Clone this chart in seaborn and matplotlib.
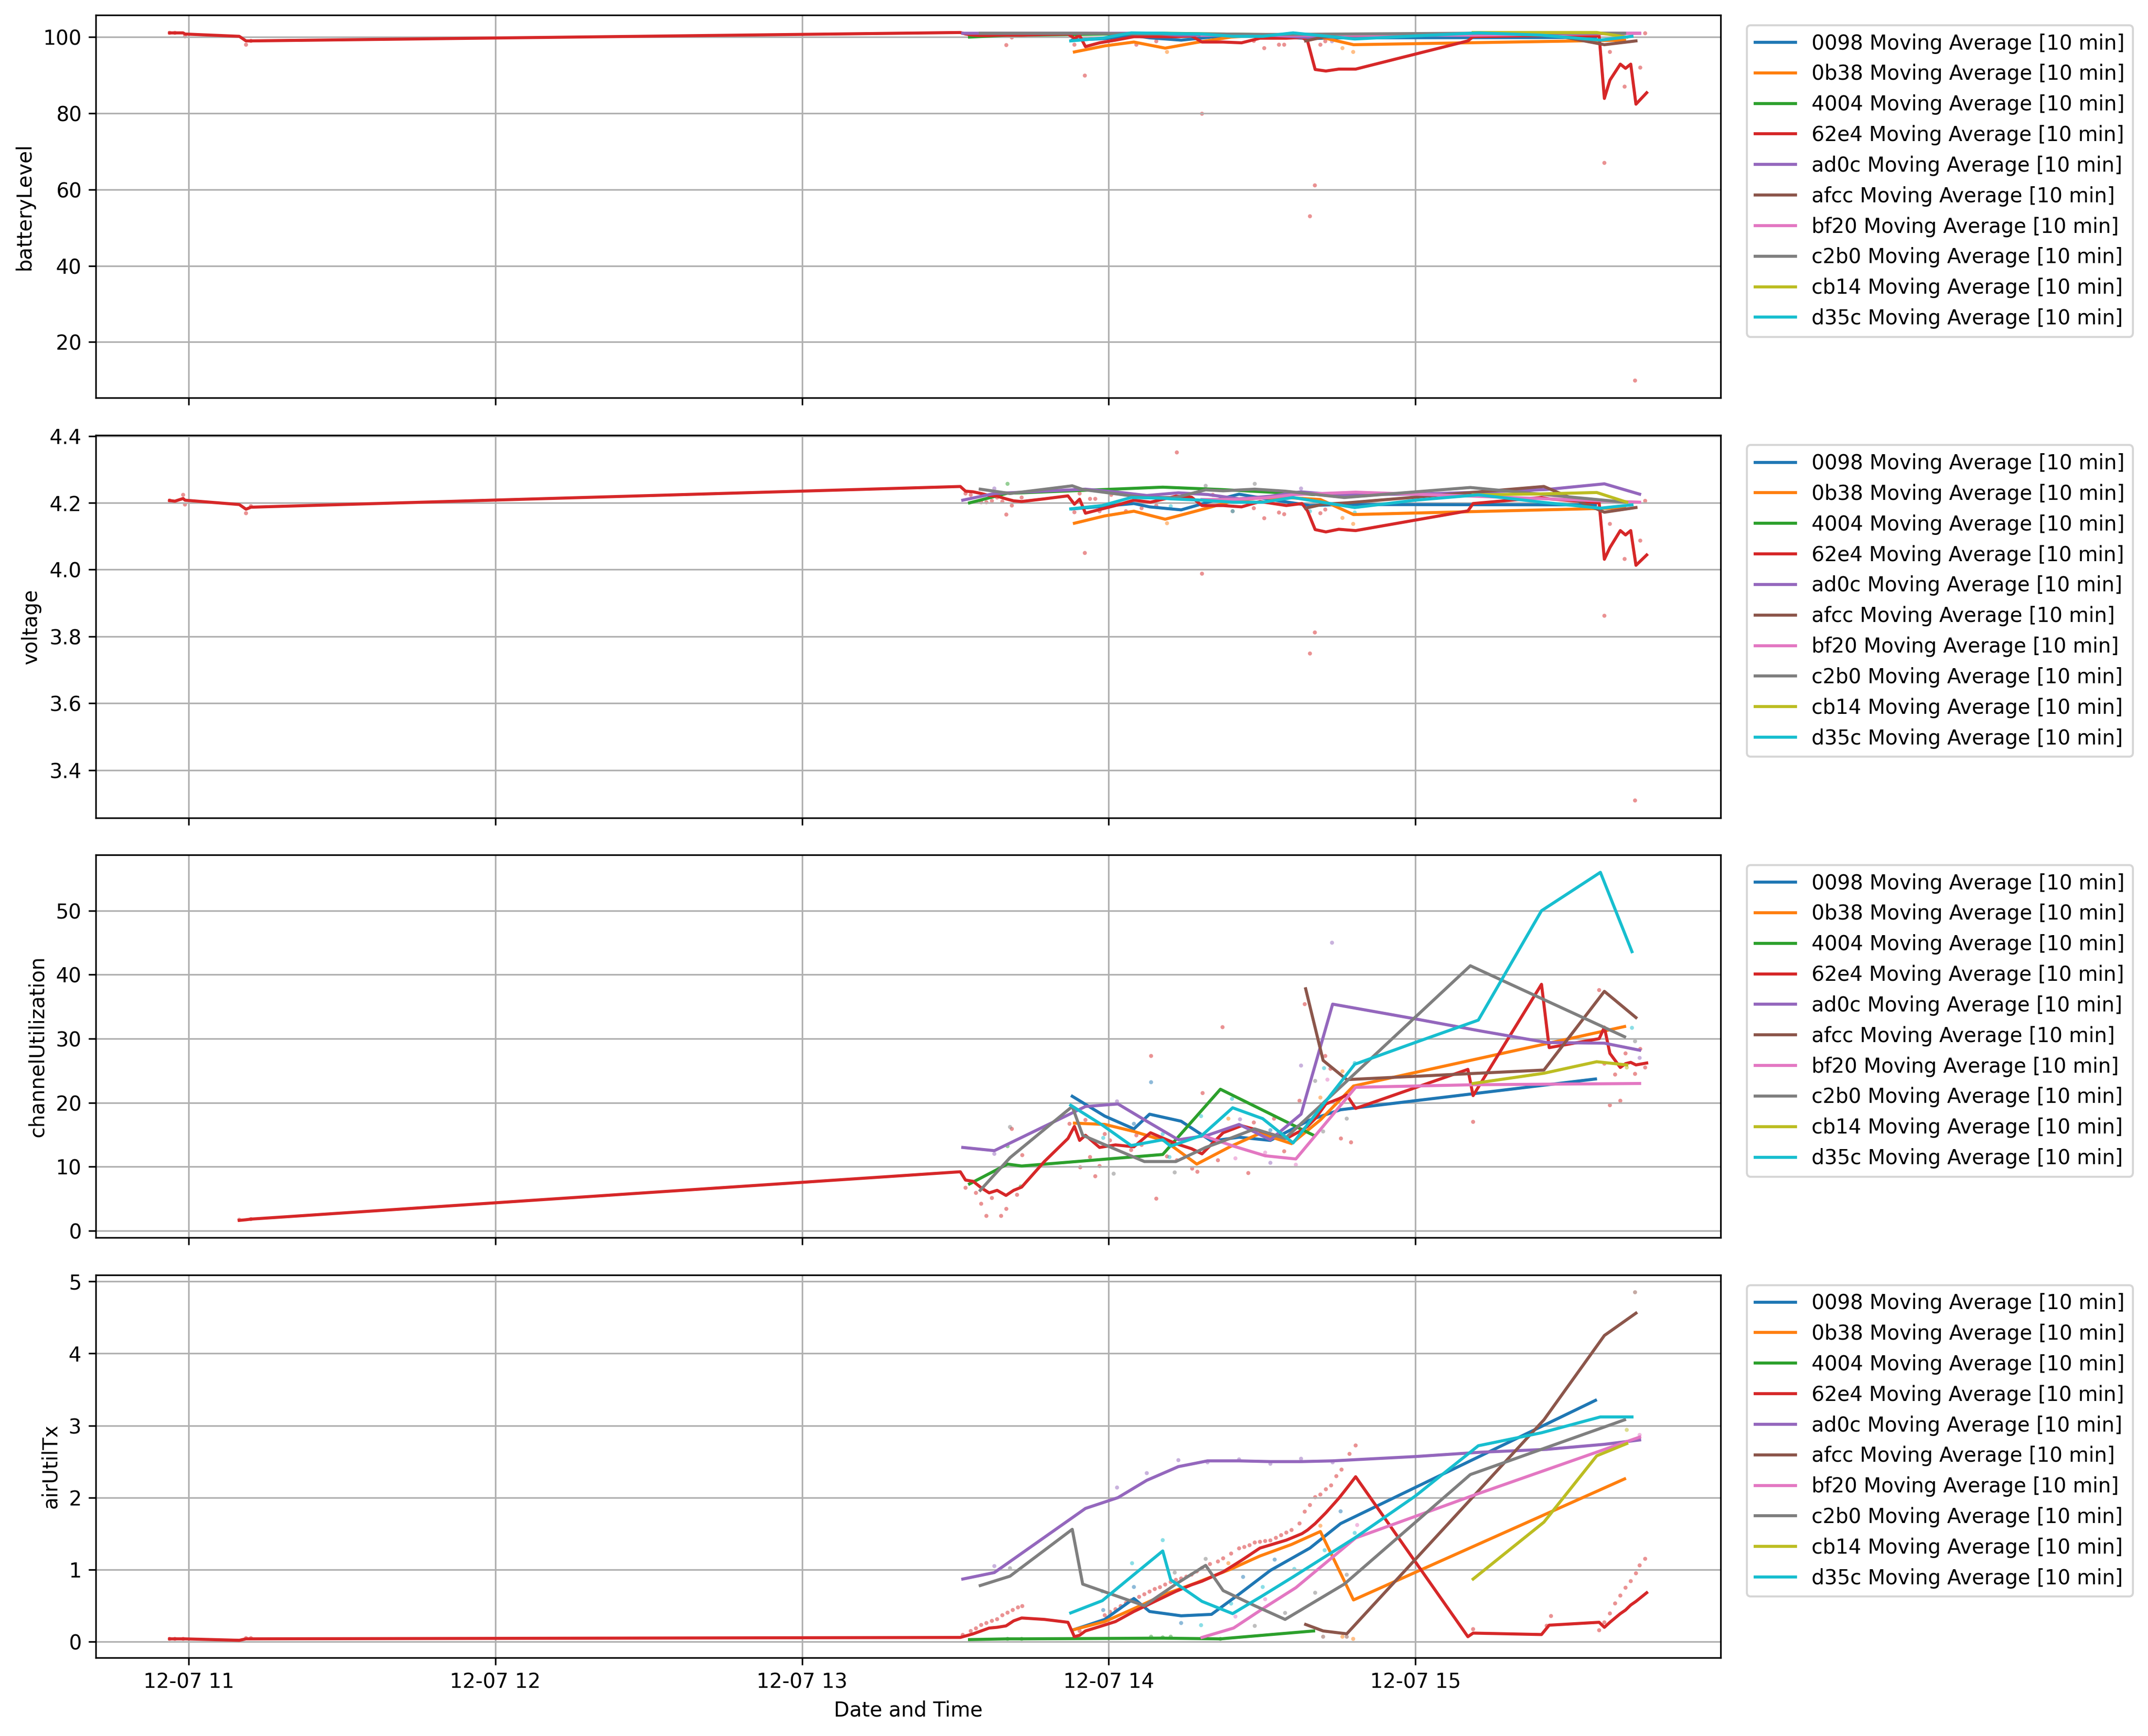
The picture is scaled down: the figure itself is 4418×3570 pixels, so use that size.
import numpy as np
import pandas as pd
import seaborn as sns
import matplotlib.pyplot as plt

DAY = pd.Timestamp("2024-12-07")
nodes = ["0098", "0b38", "4004", "62e4", "ad0c", "afcc", "bf20", "c2b0", "cb14", "d35c"]
metrics = ["batteryLevel", "voltage", "channelUtilization", "airUtilTx"]

# moving average [10 min] per node, time in hours of the day
hours_0098 = [13.881, 13.987, 14.082, 14.133, 14.236, 14.335, 14.425, 14.527, 14.656, 14.756, 15.587]
battery_0098 = [99.2, 99.6, 100.4, 99.8, 99.2, 100.0, 100.3, 100.2, 99.6, 99.8, 99.9]
voltage_0098 = [4.182, 4.190, 4.198, 4.188, 4.179, 4.205, 4.226, 4.210, 4.192, 4.195, 4.194]
chutil_0098 = [21.0, 17.9, 15.9, 18.2, 17.1, 14.0, 14.6, 14.1, 17.3, 18.9, 23.7]
airtx_0098 = [0.16, 0.31, 0.60, 0.42, 0.36, 0.38, 0.66, 0.99, 1.30, 1.64, 3.35]

hours_0b38 = [13.888, 13.987, 14.082, 14.184, 14.287, 14.399, 14.493, 14.596, 14.690, 14.798, 15.682]
battery_0b38 = [96.1, 97.7, 98.7, 97.1, 98.6, 100.0, 100.5, 100.5, 100.0, 98.0, 99.2]
voltage_0b38 = [4.139, 4.161, 4.175, 4.151, 4.176, 4.204, 4.215, 4.215, 4.210, 4.165, 4.185]
chutil_0b38 = [16.8, 16.6, 15.5, 14.0, 10.4, 13.2, 15.2, 13.6, 17.3, 22.6, 31.9]
airtx_0b38 = [0.17, 0.28, 0.46, 0.66, 0.82, 1.01, 1.19, 1.35, 1.53, 0.58, 2.26]

hours_4004 = [13.546, 13.670, 13.716, 14.176, 14.364, 14.668]
battery_4004 = [100.0, 100.5, 100.5, 101.0, 100.8, 100.5]
voltage_4004 = [4.200, 4.229, 4.230, 4.247, 4.240, 4.225]
chutil_4004 = [7.3, 10.4, 10.1, 11.9, 22.1, 14.9]
airtx_4004 = [0.03, 0.04, 0.04, 0.05, 0.04, 0.15]

hours_62e4 = [10.938, 10.955, 10.982, 10.988, 11.165, 11.187, 11.203,
              13.516, 13.533, 13.558, 13.584, 13.610, 13.636, 13.665, 13.690, 13.716, 13.790,
              13.867, 13.888, 13.905, 13.924, 13.970, 14.022, 14.082, 14.136, 14.219, 14.270,
              14.304, 14.373, 14.433, 14.493, 14.579, 14.630, 14.648, 14.673, 14.708, 14.750,
              14.776, 14.805, 15.171, 15.188, 15.411, 15.436, 15.599, 15.616, 15.634, 15.668,
              15.685, 15.702, 15.719, 15.754]
battery_62e4 = [101.1, 101.1, 101.1, 100.8, 100.2, 99.0, 99.0,
                101.2, 100.8, 100.5, 100.4, 100.4, 100.5, 100.5, 100.5, 100.5, 100.7,
                100.8, 99.7, 100.4, 97.5, 98.5, 99.2, 100.1, 100.1, 100.1, 100.3,
                98.7, 98.7, 98.5, 99.7, 99.7, 99.9, 99.0, 91.5, 91.1, 91.6,
                91.6, 91.6, 99.0, 100.1, 100.4, 100.4, 100.3, 83.9, 88.7, 92.9,
                91.8, 92.9, 82.4, 85.4]
voltage_62e4 = [4.207, 4.205, 4.213, 4.208, 4.195, 4.181, 4.187,
                4.249, 4.235, 4.233, 4.228, 4.222, 4.220, 4.212, 4.206, 4.204, 4.212,
                4.221, 4.196, 4.211, 4.169, 4.180, 4.192, 4.208, 4.202, 4.220, 4.217,
                4.192, 4.192, 4.188, 4.204, 4.192, 4.198, 4.176, 4.120, 4.113, 4.121,
                4.119, 4.117, 4.176, 4.198, 4.216, 4.212, 4.200, 4.031, 4.066, 4.117,
                4.104, 4.117, 4.013, 4.044]
chutil_62e4 = [None, None, None, None, 1.6, 1.7, 1.8,
               9.2, 7.9, 7.7, 6.7, 5.9, 6.3, 5.5, 6.3, 6.8, 10.8,
               14.4, 16.3, 14.1, 14.9, 13.0, 13.4, 13.1, 15.3, 13.6, 12.8,
               12.0, 15.3, 16.4, 15.6, 14.4, 15.7, 16.3, 17.5, 19.8, 20.6,
               21.2, 19.1, 25.2, 21.1, 38.5, 28.6, 30.0, 31.8, 27.7, 25.5,
               26.1, 26.3, 25.9, 26.2]
airtx_62e4 = [0.04, 0.04, 0.04, 0.04, 0.02, 0.04, 0.04,
              0.06, 0.08, 0.11, 0.15, 0.19, 0.20, 0.22, 0.29, 0.33, 0.31,
              0.27, 0.07, 0.09, 0.15, 0.21, 0.28, 0.42, 0.53, 0.70, 0.79,
              0.84, 0.97, 1.13, 1.30, 1.41, 1.50, 1.55, 1.64, 1.79, 1.99,
              2.13, 2.29, 0.07, 0.12, 0.10, 0.23, 0.27, 0.20, 0.27, 0.39,
              0.44, 0.51, 0.56, 0.68]

hours_ad0c = [13.524, 13.627, 13.924, 14.030, 14.124, 14.227, 14.322, 14.425, 14.527, 14.627,
              14.730, 14.999, 15.213, 15.428, 15.616, 15.731]
battery_ad0c = [101.0, 101.0, 101.0, 101.0, 101.0, 100.5, 100.5, 100.5, 100.5, 100.0,
                100.0, 100.5, 101.0, 101.0, 101.0, 101.0]
voltage_ad0c = [4.208, 4.228, 4.241, 4.232, 4.222, 4.230, 4.225, 4.212, 4.220, 4.233,
                4.225, 4.226, 4.232, 4.240, 4.257, 4.226]
chutil_ad0c = [13.0, 12.5, 19.4, 19.8, 17.1, 14.2, 14.9, 16.6, 14.2, 18.2,
               35.4, 33.1, 31.2, 29.4, 29.3, 28.2]
airtx_ad0c = [0.87, 0.96, 1.85, 2.00, 2.24, 2.43, 2.51, 2.51, 2.50, 2.50,
              2.51, 2.57, 2.63, 2.67, 2.74, 2.80]

hours_afcc = [14.642, 14.699, 14.776, 15.419, 15.616, 15.719]
battery_afcc = [99.0, 100.0, 100.4, 101.0, 98.0, 99.0]
voltage_afcc = [4.184, 4.196, 4.200, 4.249, 4.172, 4.186]
chutil_afcc = [37.8, 26.6, 23.6, 25.1, 37.4, 33.3]
airtx_afcc = [0.24, 0.15, 0.11, 3.08, 4.25, 4.56]

hours_bf20 = [14.304, 14.407, 14.510, 14.610, 14.805, 15.188, 15.731]
battery_bf20 = [100.5, 100.5, 100.5, 100.5, 100.5, 100.5, 101.0]
voltage_bf20 = [4.210, 4.210, 4.215, 4.225, 4.232, 4.220, 4.202]
chutil_bf20 = [14.9, 13.2, 11.7, 11.2, 22.4, 22.8, 23.0]
airtx_bf20 = [0.06, 0.19, 0.48, 0.75, 1.44, 2.03, 2.84]

hours_c2b0 = [13.581, 13.678, 13.881, 13.915, 14.116, 14.219, 14.316, 14.373, 14.476, 14.575,
              14.768, 15.179, 15.682]
battery_c2b0 = [101.0, 101.0, 101.0, 101.0, 100.8, 100.8, 100.8, 100.8, 100.7, 100.7,
                100.8, 101.0, 101.0]
voltage_c2b0 = [4.241, 4.228, 4.251, 4.240, 4.216, 4.216, 4.239, 4.236, 4.241, 4.235,
                4.216, 4.246, 4.202]
chutil_c2b0 = [6.3, 11.4, 19.4, 14.9, 10.8, 10.8, 13.0, 14.0, 15.9, 14.4,
               23.0, 41.4, 30.3]
airtx_c2b0 = [0.78, 0.91, 1.56, 0.80, 0.50, 0.80, 1.06, 0.71, 0.50, 0.31,
              0.80, 2.32, 3.08]

hours_cb14 = [15.188, 15.419, 15.591, 15.689]
battery_cb14 = [101.2, 101.2, 101.2, 100.0]
voltage_cb14 = [4.224, 4.227, 4.231, 4.202]
chutil_cb14 = [23.0, 24.6, 26.4, 25.9]
airtx_cb14 = [0.87, 1.66, 2.58, 2.75]

hours_d35c = [13.876, 13.979, 14.073, 14.176, 14.202, 14.304, 14.404, 14.502, 14.601, 14.802,
              14.999, 15.205, 15.411, 15.603, 15.706]
battery_d35c = [99.0, 99.7, 101.1, 101.0, 100.9, 100.8, 100.2, 100.2, 101.1, 99.5,
                100.3, 101.1, 100.5, 99.2, 100.2]
voltage_d35c = [4.182, 4.192, 4.216, 4.214, 4.212, 4.208, 4.202, 4.202, 4.216, 4.186,
                4.208, 4.224, 4.202, 4.184, 4.194]
chutil_d35c = [19.6, 16.5, 13.3, 14.2, 13.2, 14.9, 19.2, 17.5, 13.7, 26.0,
               29.4, 32.9, 50.0, 56.0, 43.6]
airtx_d35c = [0.40, 0.57, 0.90, 1.26, 0.86, 0.56, 0.39, 0.64, 0.90, 1.44,
              2.02, 2.72, 2.90, 3.12, 3.12]

# raw telemetry points (node, hour, value)
battery_points = [
    ("62e4", 10.938, 101.1), ("62e4", 10.955, 101.1), ("62e4", 10.988, 100.2),
    ("62e4", 11.187, 98.0), ("62e4", 11.203, 99.0), ("62e4", 13.666, 97.9),
    ("62e4", 13.684, 99.9), ("62e4", 13.888, 98.0), ("62e4", 13.922, 89.9),
    ("62e4", 14.090, 98.0), ("62e4", 14.155, 98.9), ("62e4", 14.304, 79.9),
    ("62e4", 14.473, 99.0), ("62e4", 14.507, 97.1), ("62e4", 14.555, 98.0),
    ("62e4", 14.572, 98.0), ("62e4", 14.656, 53.0), ("62e4", 14.672, 61.1),
    ("62e4", 14.690, 98.0), ("62e4", 14.706, 98.9), ("62e4", 15.616, 67.0),
    ("62e4", 15.634, 96.1), ("62e4", 15.682, 87.0), ("62e4", 15.716, 9.9),
    ("62e4", 15.733, 92.0), ("62e4", 15.749, 101.0),
    ("0b38", 14.190, 96.1), ("0b38", 14.762, 97.1), ("0b38", 14.797, 96.1),
    ("ad0c", 14.728, 98.9),
]
voltage_points = [
    ("62e4", 10.938, 4.207), ("62e4", 10.982, 4.224), ("62e4", 10.988, 4.195),
    ("62e4", 11.187, 4.169), ("62e4", 11.203, 4.190), ("62e4", 13.533, 4.228),
    ("62e4", 13.550, 4.224), ("62e4", 13.584, 4.202), ("62e4", 13.601, 4.202),
    ("62e4", 13.619, 4.206), ("62e4", 13.636, 4.216), ("62e4", 13.653, 4.204),
    ("62e4", 13.666, 4.165), ("62e4", 13.684, 4.192), ("62e4", 13.716, 4.216),
    ("62e4", 13.888, 4.172), ("62e4", 13.905, 4.228), ("62e4", 13.922, 4.050),
    ("62e4", 13.939, 4.212), ("62e4", 13.956, 4.212), ("62e4", 13.970, 4.175),
    ("62e4", 14.008, 4.224), ("62e4", 14.056, 4.175), ("62e4", 14.107, 4.184),
    ("62e4", 14.155, 4.192), ("62e4", 14.222, 4.351), ("62e4", 14.250, 4.226),
    ("62e4", 14.304, 3.988), ("62e4", 14.339, 4.224), ("62e4", 14.404, 4.175),
    ("62e4", 14.473, 4.184), ("62e4", 14.507, 4.154), ("62e4", 14.555, 4.171),
    ("62e4", 14.572, 4.166), ("62e4", 14.656, 3.749), ("62e4", 14.672, 3.812),
    ("62e4", 14.690, 4.169), ("62e4", 14.706, 4.180), ("62e4", 15.616, 3.862),
    ("62e4", 15.634, 4.137), ("62e4", 15.682, 4.032), ("62e4", 15.716, 3.309),
    ("62e4", 15.733, 4.087), ("62e4", 15.749, 4.206),
    ("4004", 13.670, 4.257), ("ad0c", 13.627, 4.243), ("ad0c", 14.627, 4.243),
    ("c2b0", 14.316, 4.251), ("c2b0", 14.476, 4.257),
    ("0b38", 14.190, 4.139), ("0b38", 14.762, 4.155), ("0b38", 14.797, 4.137),
    ("d35c", 14.202, 4.190), ("d35c", 14.404, 4.175), ("d35c", 14.656, 4.175),
    ("d35c", 14.802, 4.171),
]
chutil_points = [
    ("62e4", 11.165, 1.7), ("62e4", 11.203, 1.8), ("62e4", 13.533, 6.7),
    ("62e4", 13.567, 5.9), ("62e4", 13.584, 4.2), ("62e4", 13.601, 2.3),
    ("62e4", 13.619, 5.1), ("62e4", 13.649, 2.3), ("62e4", 13.666, 3.4),
    ("62e4", 13.684, 15.9), ("62e4", 13.701, 5.6), ("62e4", 13.718, 11.8),
    ("62e4", 13.872, 16.7), ("62e4", 13.907, 9.9), ("62e4", 13.924, 17.3),
    ("62e4", 13.939, 11.5), ("62e4", 13.956, 8.5), ("62e4", 13.970, 10.1),
    ("62e4", 13.987, 15.1), ("62e4", 14.004, 14.1), ("62e4", 14.073, 12.6),
    ("62e4", 14.090, 14.9), ("62e4", 14.107, 13.4), ("62e4", 14.138, 27.3),
    ("62e4", 14.155, 5.0), ("62e4", 14.190, 11.6), ("62e4", 14.222, 11.0),
    ("62e4", 14.272, 9.7), ("62e4", 14.289, 9.2), ("62e4", 14.306, 21.5),
    ("62e4", 14.356, 11.0), ("62e4", 14.371, 31.8), ("62e4", 14.455, 9.0),
    ("62e4", 14.473, 16.9), ("62e4", 14.539, 17.5), ("62e4", 14.572, 12.4),
    ("62e4", 14.622, 20.3), ("62e4", 14.639, 35.4), ("62e4", 14.706, 27.3),
    ("62e4", 14.723, 25.3), ("62e4", 14.757, 14.4), ("62e4", 14.790, 13.8),
    ("62e4", 15.188, 17.0), ("62e4", 15.599, 37.6), ("62e4", 15.616, 26.1),
    ("62e4", 15.634, 19.6), ("62e4", 15.651, 24.4), ("62e4", 15.668, 20.3),
    ("62e4", 15.685, 27.7), ("62e4", 15.716, 24.5), ("62e4", 15.733, 28.4),
    ("62e4", 15.749, 25.5),
    ("ad0c", 13.627, 12.0), ("ad0c", 14.027, 20.2), ("ad0c", 14.428, 17.4),
    ("ad0c", 14.527, 10.6), ("ad0c", 14.627, 25.8), ("ad0c", 14.728, 45.0),
    ("ad0c", 15.731, 27.0),
    ("c2b0", 13.678, 16.2), ("c2b0", 14.016, 8.9), ("c2b0", 14.215, 9.1),
    ("c2b0", 14.673, 23.4), ("c2b0", 14.699, 15.5), ("c2b0", 14.776, 17.5),
    ("c2b0", 15.716, 29.6),
    ("0098", 14.082, 16.7), ("0098", 14.138, 23.2), ("0098", 14.527, 15.7),
    ("0b38", 14.390, 17.5), ("0b38", 14.690, 20.8), ("0b38", 14.762, 24.9),
    ("d35c", 13.982, 14.5), ("d35c", 14.176, 15.1), ("d35c", 14.198, 11.5),
    ("d35c", 14.301, 17.9), ("d35c", 14.402, 20.6), ("d35c", 14.702, 25.4),
    ("d35c", 14.802, 26.2), ("d35c", 15.706, 31.7),
    ("4004", 13.670, 13.2), ("4004", 13.713, 6.9),
    ("bf20", 14.413, 11.3), ("bf20", 14.510, 12.2), ("bf20", 14.610, 10.3),
    ("bf20", 14.713, 23.6), ("cb14", 15.689, 25.5),
]
airtx_points = [
    ("62e4", 10.938, 0.04), ("62e4", 10.955, 0.04), ("62e4", 10.982, 0.04),
    ("62e4", 11.187, 0.05), ("62e4", 11.203, 0.05),
    ("62e4", 13.524, 0.095), ("62e4", 13.550, 0.149), ("62e4", 13.567, 0.186),
    ("62e4", 13.584, 0.233), ("62e4", 13.601, 0.260), ("62e4", 13.619, 0.290),
    ("62e4", 13.636, 0.313), ("62e4", 13.653, 0.368), ("62e4", 13.670, 0.404),
    ("62e4", 13.687, 0.441), ("62e4", 13.704, 0.477), ("62e4", 13.718, 0.495),
    ("62e4", 13.888, 0.066), ("62e4", 13.905, 0.149), ("62e4", 13.987, 0.368),
    ("62e4", 14.004, 0.415), ("62e4", 14.022, 0.452), ("62e4", 14.039, 0.495),
    ("62e4", 14.056, 0.539), ("62e4", 14.073, 0.575), ("62e4", 14.099, 0.623),
    ("62e4", 14.116, 0.659), ("62e4", 14.133, 0.696), ("62e4", 14.150, 0.732),
    ("62e4", 14.167, 0.757), ("62e4", 14.184, 0.794), ("62e4", 14.202, 0.830),
    ("62e4", 14.219, 0.859), ("62e4", 14.236, 0.878), ("62e4", 14.253, 0.903),
    ("62e4", 14.270, 0.932), ("62e4", 14.287, 0.976), ("62e4", 14.304, 1.023),
    ("62e4", 14.330, 1.078), ("62e4", 14.356, 1.114), ("62e4", 14.373, 1.158),
    ("62e4", 14.399, 1.224), ("62e4", 14.425, 1.296), ("62e4", 14.442, 1.315),
    ("62e4", 14.459, 1.340), ("62e4", 14.476, 1.377), ("62e4", 14.493, 1.387),
    ("62e4", 14.510, 1.398), ("62e4", 14.527, 1.406), ("62e4", 14.545, 1.442),
    ("62e4", 14.562, 1.479), ("62e4", 14.579, 1.515), ("62e4", 14.596, 1.551),
    ("62e4", 14.622, 1.642), ("62e4", 14.639, 1.806), ("62e4", 14.656, 1.897),
    ("62e4", 14.673, 2.007), ("62e4", 14.690, 2.043), ("62e4", 14.708, 2.116),
    ("62e4", 14.725, 2.170), ("62e4", 14.742, 2.298), ("62e4", 14.759, 2.389),
    ("62e4", 14.785, 2.607), ("62e4", 14.805, 2.724),
    ("62e4", 15.188, 0.175), ("62e4", 15.428, 0.222), ("62e4", 15.442, 0.357),
    ("62e4", 15.599, 0.160), ("62e4", 15.616, 0.269), ("62e4", 15.634, 0.393),
    ("62e4", 15.651, 0.532), ("62e4", 15.668, 0.641), ("62e4", 15.685, 0.750),
    ("62e4", 15.702, 0.841), ("62e4", 15.719, 0.950), ("62e4", 15.731, 1.060),
    ("62e4", 15.749, 1.151),
    ("ad0c", 13.627, 1.05), ("ad0c", 14.027, 2.14), ("ad0c", 14.124, 2.34),
    ("ad0c", 14.227, 2.52), ("ad0c", 14.322, 2.49), ("ad0c", 14.425, 2.53),
    ("ad0c", 14.527, 2.47), ("ad0c", 14.627, 2.54), ("ad0c", 14.730, 2.49),
    ("c2b0", 13.678, 1.02), ("c2b0", 14.215, 0.96), ("c2b0", 14.316, 1.15),
    ("c2b0", 14.476, 0.22), ("c2b0", 14.575, 0.40), ("c2b0", 14.673, 0.68),
    ("c2b0", 14.776, 0.93),
    ("d35c", 13.979, 0.70), ("d35c", 14.076, 1.09), ("d35c", 14.176, 1.41),
    ("d35c", 14.301, 0.23), ("d35c", 14.399, 0.53), ("d35c", 14.502, 0.76),
    ("d35c", 14.605, 1.01), ("d35c", 14.704, 1.27), ("d35c", 14.802, 1.51),
    ("0098", 13.982, 0.44), ("0098", 14.082, 0.76), ("0098", 14.236, 0.26),
    ("0098", 14.438, 0.90), ("0098", 14.541, 1.14), ("0098", 14.756, 1.81),
    ("0b38", 14.390, 1.09), ("0b38", 14.690, 1.61), ("0b38", 14.762, 0.07),
    ("0b38", 14.797, 0.04),
    ("bf20", 14.413, 0.35), ("bf20", 14.510, 0.59), ("bf20", 14.810, 1.62),
    ("bf20", 15.731, 2.87),
    ("afcc", 14.699, 0.07), ("afcc", 14.776, 0.07), ("afcc", 15.716, 4.85),
    ("cb14", 15.689, 2.94),
    ("4004", 13.670, 0.04), ("4004", 13.716, 0.04), ("4004", 14.138, 0.07),
    ("4004", 14.176, 0.06), ("4004", 14.202, 0.07), ("4004", 14.364, 0.04),
]


def to_time(hours):
    return DAY + pd.to_timedelta(np.asarray(hours, dtype=float), unit="h")


def build_lines():
    series = {
        "0098": (hours_0098, battery_0098, voltage_0098, chutil_0098, airtx_0098),
        "0b38": (hours_0b38, battery_0b38, voltage_0b38, chutil_0b38, airtx_0b38),
        "4004": (hours_4004, battery_4004, voltage_4004, chutil_4004, airtx_4004),
        "62e4": (hours_62e4, battery_62e4, voltage_62e4, chutil_62e4, airtx_62e4),
        "ad0c": (hours_ad0c, battery_ad0c, voltage_ad0c, chutil_ad0c, airtx_ad0c),
        "afcc": (hours_afcc, battery_afcc, voltage_afcc, chutil_afcc, airtx_afcc),
        "bf20": (hours_bf20, battery_bf20, voltage_bf20, chutil_bf20, airtx_bf20),
        "c2b0": (hours_c2b0, battery_c2b0, voltage_c2b0, chutil_c2b0, airtx_c2b0),
        "cb14": (hours_cb14, battery_cb14, voltage_cb14, chutil_cb14, airtx_cb14),
        "d35c": (hours_d35c, battery_d35c, voltage_d35c, chutil_d35c, airtx_d35c),
    }
    parts = []
    for node, cols in series.items():
        for metric, vals in zip(metrics, cols[1:]):
            parts.append(pd.DataFrame({
                "node": node,
                "metric": metric,
                "time": to_time(cols[0]),
                "value": np.array([np.nan if v is None else v for v in vals], dtype=float),
            }))
    df = pd.concat(parts, ignore_index=True).dropna()
    df["label"] = df["node"] + " Moving Average [10 min]"
    return df


def build_points():
    parts = []
    for metric, pts in zip(metrics, [battery_points, voltage_points, chutil_points, airtx_points]):
        d = pd.DataFrame(pts, columns=["node", "hour", "value"])
        d["metric"] = metric
        d["time"] = to_time(d["hour"])
        parts.append(d)
    return pd.concat(parts, ignore_index=True)


lines = build_lines()
points = build_points()

colors = sns.color_palette("tab10", len(nodes))
node_pal = dict(zip(nodes, colors))
labels = [n + " Moving Average [10 min]" for n in nodes]
label_pal = dict(zip(labels, colors))

fig, axes = plt.subplots(4, 1, figsize=(4418 / 300, 3570 / 300), dpi=300, sharex=True)

for ax, metric in zip(axes, metrics):
    p = points[points["metric"] == metric]
    sns.scatterplot(data=p, x="time", y="value", hue="node", hue_order=nodes, palette=node_pal,
                    s=4, alpha=0.5, linewidth=0, legend=False, ax=ax)
    l = lines[lines["metric"] == metric]
    sns.lineplot(data=l, x="time", y="value", hue="label", hue_order=labels, palette=label_pal,
                 estimator=None, linewidth=1.5, ax=ax)
    ax.set_ylabel(metric)
    ax.set_xlabel("")
    ax.grid(True)
    sns.move_legend(ax, "upper left", bbox_to_anchor=(1.01, 1), title=None)

axes[-1].set_xlabel("Date and Time")

fig.subplots_adjust(left=0.0446, right=0.801, top=0.9913, bottom=0.0451, hspace=0.0968)
fig.savefig("out.png", dpi=300)
